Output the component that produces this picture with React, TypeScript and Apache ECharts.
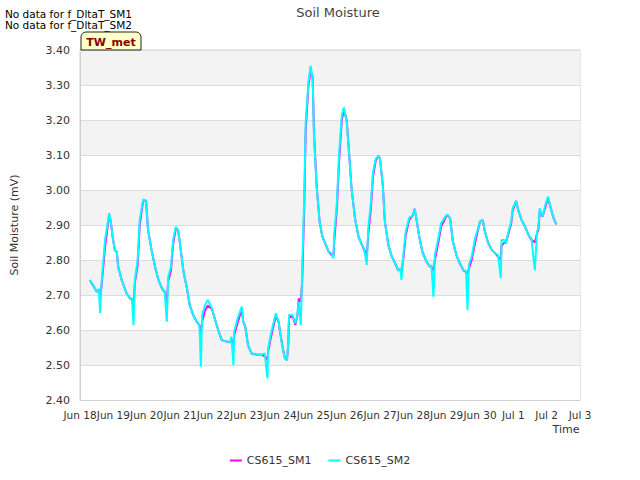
import React, { useEffect, useRef } from "react";
import * as echarts from "echarts";

const chartTitle = "Soil Moisture";
const seriesNames = ["CS615_SM1", "CS615_SM2"];
const noDataNotes = ["No data for f_DltaT_SM1", "No data for f_DltaT_SM2"];
const siteLabel = "TW_met";
const yTickMin = 2.4;
const yTickMax = 3.4;
const yTickStep = 0.1;
const year = 2023;
const xStart = "06-18 00:00";
const xEnd = "07-03 00:00";

const times = [
  "06-18 07:00", "06-18 10:00", "06-18 12:00", "06-18 13:30", "06-18 14:30", "06-18 15:30", "06-18 18:00", "06-18 21:00", "06-18 22:00", "06-18 23:30",
  "06-19 01:00", "06-19 02:30", "06-19 03:30", "06-19 06:00", "06-19 09:30", "06-19 12:30", "06-19 13:30", "06-19 14:30", "06-19 15:30", "06-19 17:30", "06-19 19:00", "06-19 21:30", "06-19 23:30",
  "06-20 01:00", "06-20 03:30", "06-20 06:00", "06-20 08:30", "06-20 11:00", "06-20 13:00", "06-20 14:30", "06-20 15:30", "06-20 17:30", "06-20 19:00", "06-20 21:00", "06-20 22:30", "06-20 23:30",
  "06-21 02:30", "06-21 05:00", "06-21 07:00", "06-21 09:30", "06-21 12:00", "06-21 14:00", "06-21 15:00", "06-21 16:00", "06-21 18:00", "06-21 20:00", "06-21 23:00",
  "06-22 01:00", "06-22 03:30", "06-22 06:00", "06-22 09:30", "06-22 12:00", "06-22 13:00", "06-22 14:30", "06-22 15:00", "06-22 17:30", "06-22 20:30", "06-22 21:30", "06-22 23:00",
  "06-23 01:00", "06-23 03:30", "06-23 07:00", "06-23 11:00", "06-23 13:00", "06-23 15:00", "06-23 15:30", "06-23 17:30", "06-23 21:00", "06-23 23:00",
  "06-24 00:00", "06-24 02:00", "06-24 03:30", "06-24 05:00", "06-24 06:00", "06-24 06:30", "06-24 09:00", "06-24 11:00", "06-24 12:30", "06-24 13:30", "06-24 15:00", "06-24 16:00", "06-24 17:30", "06-24 18:30", "06-24 20:30", "06-24 22:00", "06-24 23:30",
  "06-25 00:30", "06-25 02:30", "06-25 04:30", "06-25 06:30", "06-25 09:00", "06-25 11:00", "06-25 13:00", "06-25 14:30", "06-25 15:00", "06-25 17:00", "06-25 18:30", "06-25 20:30", "06-25 22:00",
  "06-26 00:00", "06-26 01:30", "06-26 03:30", "06-26 06:00", "06-26 08:30", "06-26 11:00", "06-26 12:30", "06-26 14:30", "06-26 15:30", "06-26 17:30", "06-26 19:00", "06-26 21:00", "06-26 23:00",
  "06-27 00:00", "06-27 02:00", "06-27 03:30", "06-27 06:00", "06-27 08:30", "06-27 11:00", "06-27 13:00", "06-27 14:30", "06-27 15:30", "06-27 17:00", "06-27 18:30", "06-27 21:00", "06-27 23:30",
  "06-28 01:00", "06-28 02:30", "06-28 04:30", "06-28 06:30", "06-28 09:30", "06-28 12:00", "06-28 13:00", "06-28 14:30", "06-28 15:30", "06-28 18:00", "06-28 20:00", "06-28 23:00",
  "06-29 00:30", "06-29 02:30", "06-29 04:30", "06-29 07:00", "06-29 09:30", "06-29 12:00", "06-29 14:00", "06-29 15:00", "06-29 16:00", "06-29 18:00", "06-29 20:30",
  "06-30 00:00", "06-30 02:00", "06-30 03:30", "06-30 06:00", "06-30 08:30", "06-30 11:00", "06-30 13:00", "06-30 15:00", "06-30 15:30", "06-30 17:30", "06-30 18:30", "06-30 20:30", "06-30 22:30", "06-30 23:30",
  "07-01 02:00", "07-01 03:30", "07-01 06:00", "07-01 08:30", "07-01 11:00", "07-01 13:00", "07-01 15:30", "07-01 17:00", "07-01 18:00", "07-01 19:00", "07-01 21:00", "07-01 23:00",
  "07-02 01:00", "07-02 03:00", "07-02 05:00", "07-02 07:00",
];

const sm1 = [
  2.743, 2.724, 2.709, 2.715, 2.700, 2.725, 2.835, 2.930, 2.914, 2.867,
  2.829, 2.822, 2.781, 2.743, 2.705, 2.688, 2.690, 2.660, 2.735, 2.785, 2.900, 2.970, 2.969,
  2.886, 2.829, 2.781, 2.743, 2.719, 2.709, 2.680, 2.740, 2.770, 2.845, 2.890, 2.886, 2.862,
  2.767, 2.719, 2.671, 2.643, 2.624, 2.614, 2.590, 2.625, 2.655, 2.670, 2.660,
  2.633, 2.600, 2.571, 2.567, 2.565, 2.575, 2.550, 2.585, 2.620, 2.660, 2.624, 2.610,
  2.557, 2.533, 2.530, 2.529, 2.525, 2.515, 2.540, 2.580, 2.640, 2.624,
  2.595, 2.548, 2.519, 2.514, 2.560, 2.635, 2.640, 2.615, 2.640, 2.690, 2.680, 2.740, 2.960, 3.170, 3.300, 3.340, 3.325,
  3.160, 3.005, 2.910, 2.867, 2.843, 2.824, 2.815, 2.810, 2.850, 2.950, 3.080, 3.200, 3.230,
  3.200, 3.119, 3.005, 2.919, 2.867, 2.843, 2.830, 2.815, 2.870, 2.950, 3.040, 3.085, 3.097,
  3.090, 3.014, 2.910, 2.843, 2.810, 2.790, 2.771, 2.772, 2.765, 2.810, 2.870, 2.915, 2.927,
  2.946, 2.910, 2.862, 2.824, 2.795, 2.781, 2.780, 2.770, 2.800, 2.850, 2.895, 2.920,
  2.929, 2.919, 2.852, 2.814, 2.790, 2.771, 2.765, 2.760, 2.775, 2.800, 2.850,
  2.910, 2.914, 2.881, 2.848, 2.829, 2.819, 2.810, 2.800, 2.840, 2.850, 2.848, 2.875, 2.905, 2.940,
  2.969, 2.943, 2.914, 2.895, 2.871, 2.858, 2.850, 2.875, 2.885, 2.940, 2.924, 2.950,
  2.978, 2.948, 2.919, 2.902,
];

const sm2 = [
  2.743, 2.724, 2.709, 2.718, 2.648, 2.734, 2.857, 2.934, 2.914, 2.867,
  2.829, 2.824, 2.781, 2.743, 2.705, 2.688, 2.690, 2.614, 2.743, 2.800, 2.914, 2.973, 2.969,
  2.886, 2.829, 2.781, 2.743, 2.719, 2.709, 2.624, 2.752, 2.781, 2.857, 2.895, 2.886, 2.862,
  2.767, 2.719, 2.671, 2.643, 2.624, 2.614, 2.495, 2.643, 2.671, 2.686, 2.662,
  2.633, 2.600, 2.571, 2.567, 2.565, 2.581, 2.500, 2.595, 2.633, 2.667, 2.624, 2.610,
  2.557, 2.533, 2.530, 2.529, 2.533, 2.462, 2.548, 2.590, 2.648, 2.624,
  2.595, 2.548, 2.519, 2.514, 2.567, 2.643, 2.643, 2.619, 2.643, 2.681, 2.614, 2.776, 2.986, 3.195, 3.309, 3.355, 3.319,
  3.148, 3.005, 2.910, 2.867, 2.843, 2.824, 2.819, 2.805, 2.871, 2.967, 3.100, 3.214, 3.236,
  3.195, 3.119, 3.005, 2.919, 2.867, 2.843, 2.833, 2.786, 2.890, 2.967, 3.052, 3.090, 3.097,
  3.090, 3.014, 2.910, 2.843, 2.810, 2.790, 2.771, 2.776, 2.743, 2.824, 2.881, 2.921, 2.927,
  2.946, 2.910, 2.862, 2.824, 2.795, 2.781, 2.785, 2.695, 2.814, 2.862, 2.905, 2.924,
  2.929, 2.919, 2.852, 2.814, 2.790, 2.771, 2.768, 2.657, 2.786, 2.810, 2.862,
  2.910, 2.914, 2.881, 2.848, 2.829, 2.819, 2.814, 2.748, 2.857, 2.857, 2.848, 2.881, 2.910, 2.948,
  2.969, 2.943, 2.914, 2.895, 2.871, 2.862, 2.771, 2.881, 2.892, 2.948, 2.924, 2.957,
  2.981, 2.948, 2.919, 2.902,
];

const seriesColors = ["#ff00ff", "#00ffff"];
const monthNames = ["Jan", "Feb", "Mar", "Apr", "May", "Jun", "Jul", "Aug", "Sep", "Oct", "Nov", "Dec"];
const DAY = 86400000;

function toMs(s: string): number {
  const [md, hm] = s.split(" ");
  const [mo, d] = md.split("-").map(Number);
  const [h, mi] = hm.split(":").map(Number);
  return Date.UTC(year, mo - 1, d, h, mi);
}

const FONT = "DejaVu Sans";

export default function App() {
  const ref = useRef<HTMLDivElement>(null);
  useEffect(() => {
    if (!ref.current) return;
    const chart = echarts.init(ref.current, null, { renderer: "svg" });
    const xs = times.map(toMs);
    const option = {
      animation: false,
      backgroundColor: "#ffffff",
      textStyle: { fontFamily: FONT },
      title: {
        text: chartTitle,
        left: 333,
        textAlign: "center",
        top: 1,
        textStyle: { fontSize: 13, fontWeight: "normal", color: "#444", fontFamily: FONT },
      },
      legend: {
        bottom: 9,
        left: "center",
        icon: "rect",
        itemWidth: 12,
        itemHeight: 2,
        itemGap: 17,
        textStyle: { fontSize: 11, color: "#333", fontFamily: FONT },
        data: seriesNames,
      },
      grid: {
        left: 80,
        right: 60,
        top: 50,
        bottom: 80,
        show: true,
        borderColor: "#d0d0d0",
        borderWidth: 1,
        backgroundColor: "transparent",
      },
      xAxis: {
        type: "value",
        min: toMs(xStart),
        max: toMs(xEnd),
        interval: DAY,
        axisLine: { show: true, lineStyle: { color: "#d0d0d0" } },
        axisTick: { show: false },
        splitLine: { show: false },
        axisLabel: {
          fontSize: 10.5,
          color: "#333",
          fontFamily: FONT,
          margin: 9,
          showMinLabel: true,
          showMaxLabel: true,
          hideOverlap: false,
          formatter: (v: number) => {
            const d = new Date(v);
            return `${monthNames[d.getUTCMonth()]} ${d.getUTCDate()}`;
          },
        },
      },
      yAxis: {
        type: "value",
        min: yTickMin,
        max: yTickMax,
        interval: yTickStep,
        name: "Soil Moisture (mV)",
        nameLocation: "middle",
        nameGap: 60,
        nameTextStyle: { fontSize: 11, color: "#333", fontFamily: FONT },
        axisLine: { show: true, lineStyle: { color: "#d0d0d0" } },
        axisTick: { show: false },
        axisLabel: {
          fontSize: 11,
          color: "#333",
          fontFamily: FONT,
          margin: 10,
          formatter: (v: number) => v.toFixed(2),
        },
        splitLine: { show: true, lineStyle: { color: "#dddddd", width: 1 } },
        splitArea: { show: true, areaStyle: { color: ["#ffffff", "#f3f3f3"] } },
      },
      series: [
        {
          name: seriesNames[0],
          type: "line",
          data: xs.map((x, i) => [x, sm1[i]]),
          showSymbol: false,
          symbol: "none",
          lineStyle: { width: 2, color: seriesColors[0] },
          itemStyle: { color: seriesColors[0] },
        },
        {
          name: seriesNames[1],
          type: "line",
          data: xs.map((x, i) => [x, sm2[i]]),
          showSymbol: false,
          symbol: "none",
          lineStyle: { width: 2, color: seriesColors[1] },
          itemStyle: { color: seriesColors[1] },
        },
      ],
      graphic: [
        {
          type: "text",
          left: 5,
          top: 8,
          style: { text: noDataNotes[0], fontSize: 10.5, fill: "#000", fontFamily: FONT },
        },
        {
          type: "text",
          left: 5,
          top: 19,
          style: { text: noDataNotes[1], fontSize: 10.5, fill: "#000", fontFamily: FONT },
        },
        {
          type: "rect",
          shape: { x: 81, y: 32, width: 60, height: 18, r: [5, 5, 0, 0] },
          style: { fill: "#ffffc8", stroke: "#222", lineWidth: 1 },
          z: 10,
        },
        {
          type: "text",
          x: 111,
          y: 42,
          style: {
            text: siteLabel,
            fontSize: 11,
            fontWeight: "bold",
            fill: "#8b0000",
            fontFamily: FONT,
            align: "center",
            verticalAlign: "middle",
          },
          z: 11,
        },
        {
          type: "text",
          x: 566,
          y: 429,
          style: {
            text: "Time",
            fontSize: 11,
            fill: "#333",
            fontFamily: FONT,
            align: "center",
            verticalAlign: "middle",
          },
        },
      ],
    };
    chart.setOption(option as any);
    return () => chart.dispose();
  }, []);
  return (
    <div
      ref={ref}
      style={{ position: "fixed", left: 0, top: 0, width: 640, height: 480 }}
    />
  );
}
